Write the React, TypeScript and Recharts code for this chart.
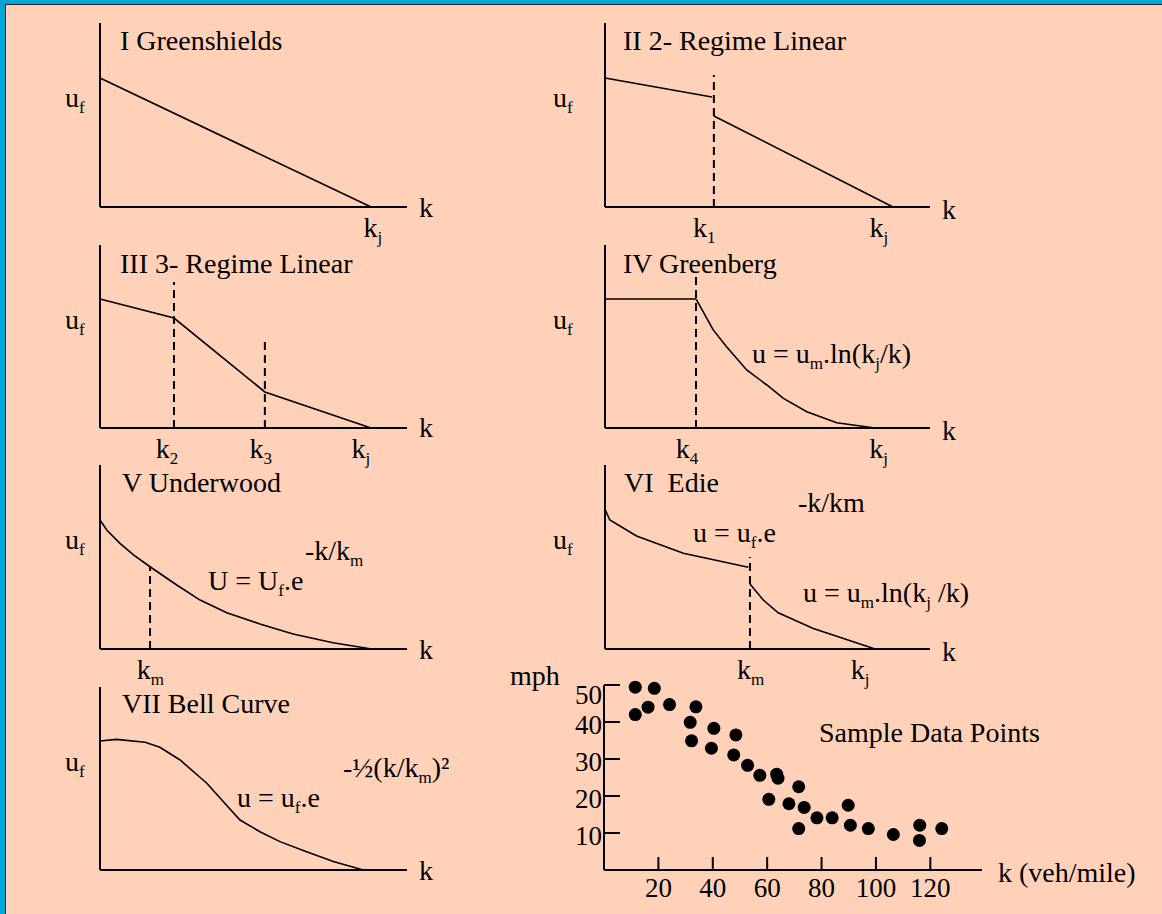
import React from 'react';
import { LineChart, Line, XAxis, YAxis, ReferenceLine, ScatterChart, Scatter } from 'recharts';

const FONT = "'Liberation Serif', 'Times New Roman', serif";
const INK = '#000';
const PEACH = '#FFD1B9';
const BLUE = '#00A6D6';

// I Greenshields (k and u as % of axis length)
const greenshieldsK = [0, 88.3];
const greenshieldsU = [70.1, 0];

// II 2-regime linear
const twoFreeK = [0, 32.9];
const twoFreeU = [70.1, 59.8];
const twoCongK = [33.5, 88.6];
const twoCongU = [49.5, 0];

// III 3-regime linear
const threeK = [0, 24.1, 53.7, 88.3];
const threeU = [70.5, 60.1, 19.7, 0];

// IV Greenberg
const greenbergFlatK = [0, 28];
const greenbergFlatU = [70.5, 70.5];
const greenbergK = [28, 33.3, 37.4, 43.6, 49.8, 54.9, 62.1, 71.3, 83.1];
const greenbergU = [70.5, 53.6, 44.4, 31.7, 23.5, 16.2, 8.9, 2.9, 0];

// V Underwood
const underwoodK = [0, 2.2, 6.5, 10.9, 16.3, 25.0, 32.6, 41.3, 52.1, 62.9, 75.9, 88.5];
const underwoodU = [70.1, 64.7, 57.4, 51.1, 44.7, 34.8, 26.6, 19.7, 13.6, 8.2, 3.4, 0];

// VI Edie
const edieFreeK = [0, 1.5, 9.7, 24.1, 44.1];
const edieFreeU = [75.9, 70.1, 61.4, 52.0, 44.4];
const edieCongK = [44.6, 48.7, 53.3, 64.1, 76.4, 83.1];
const edieCongU = [35.3, 26.6, 19.7, 11.2, 4.0, 0];

// VII Bell curve
const bellK = [0, 5.4, 14.7, 19.5, 26.1, 34.8, 40.2, 45.6, 52.1, 58.6, 67.3, 76.0, 85.8];
const bellU = [70.5, 71.4, 69.8, 67.1, 60.1, 47.4, 37.3, 27.3, 20.9, 15.5, 10.0, 4.6, 0];

// Sample data points (veh/mile, mph)
const sampleK = [11.5, 18.5, 11.5, 16.2, 24.1, 33.8, 31.7, 32.2, 40.4, 39.5, 48.5, 47.7, 52.8, 57.3, 63.5, 64.0, 60.6, 68.0, 71.6, 73.6, 71.6, 78.3, 83.9, 89.8, 90.6, 97.2, 106.4, 116.1, 116.0, 124.2];
const sampleU = [49.4, 49.1, 42.0, 44.0, 44.7, 44.1, 39.9, 34.9, 38.3, 32.9, 36.5, 31.1, 28.3, 25.6, 25.9, 24.8, 19.1, 17.9, 22.5, 16.9, 11.2, 14.1, 14.1, 17.5, 12.1, 11.2, 9.6, 12.1, 8.0, 11.2];
const sampleXTicks = [20, 40, 60, 80, 100, 120];
const sampleYTicks = [10, 20, 30, 40, 50];

const rows = (k: number[], u: number[]) => k.map((v, i) => ({ k: v, u: u[i] }));

const T = ({ x, y, size = 28, children }: any) => (
  <text x={x} y={y} fontSize={size} fontFamily={FONT} fill={INK} style={{ whiteSpace: 'pre' }}>
    {children}
  </text>
);

const KTick = ({ x, y, index, subs }: any) => (
  <text x={x} y={y + 30} textAnchor="middle" fontSize={28} fontFamily={FONT} fill={INK}>
    k<tspan fontSize={17} dy={6}>{subs[index]}</tspan>
  </text>
);

const UfTick = ({ x, y, dx }: any) => (
  <text x={x + dx} y={y + 7} fontSize={28} fontFamily={FONT} fill={INK}>
    u<tspan fontSize={17} dy={6}>f</tspan>
  </text>
);

const PAD_L = 70, PAD_T = 30, PAD_R = 60, PAD_B = 45;

function Panel({ left, top, width, height, series, breaks = [], kTicks = [], kSubs = [], ufDx, endDy, title, children }: any) {
  const boxL = left - PAD_L;
  const boxT = top - PAD_T;
  return (
    <div style={{ position: 'absolute', left: boxL, top: boxT }}>
      <LineChart
        width={width + PAD_L + PAD_R}
        height={height + PAD_T + PAD_B}
        margin={{ top: PAD_T, right: PAD_R, bottom: 5, left: 10 }}
      >
        <XAxis
          type="number"
          dataKey="k"
          domain={[0, 100]}
          ticks={kTicks}
          interval={0}
          height={40}
          tickLine={false}
          tickSize={0}
          tickMargin={0}
          axisLine={{ stroke: INK, strokeWidth: 2 }}
          tick={<KTick subs={kSubs} />}
        />
        <YAxis
          type="number"
          domain={[0, 100]}
          ticks={[58]}
          width={60}
          tickLine={false}
          tickSize={0}
          tickMargin={0}
          axisLine={{ stroke: INK, strokeWidth: 2 }}
          tick={<UfTick dx={ufDx} />}
        />
        {breaks.map((b: any, i: number) => (
          <ReferenceLine
            key={i}
            segment={[{ x: b.k, y: 0 }, { x: b.k, y: b.top }]}
            stroke={INK}
            strokeWidth={2}
            strokeDasharray="8 5"
          />
        ))}
        {series.map((s: any, i: number) => (
          <Line
            key={i}
            data={rows(s.k, s.u)}
            dataKey="u"
            type="linear"
            stroke={INK}
            strokeWidth={1.6}
            dot={false}
            isAnimationActive={false}
          />
        ))}
        <g transform={`translate(${-boxL},${-boxT})`}>
          <T x={title.x} y={title.y}>{title.text}</T>
          <T x={left + width + 12} y={top + height + endDy}>k</T>
          {children}
        </g>
      </LineChart>
    </div>
  );
}

const SampleYTick = ({ x, y, payload }: any) => (
  <g>
    <line x1={x} x2={x + 16} y1={y} y2={y} stroke={INK} strokeWidth={2} />
    <text x={x - 2} y={y + (payload.value === 50 ? 19 : 12)} textAnchor="end" fontSize={27} fontFamily={FONT} fill={INK}>
      {payload.value}
    </text>
  </g>
);

const SampleXTick = ({ x, y, payload }: any) => (
  <g>
    <line x1={x} x2={x} y1={y - 13} y2={y} stroke={INK} strokeWidth={2} />
    <text x={x} y={y + 27} textAnchor="middle" fontSize={27} fontFamily={FONT} fill={INK}>
      {payload.value}
    </text>
  </g>
);

function SamplePanel() {
  const left = 604, top = 685, width = 378, height = 185;
  const padL = 110;
  const boxL = left - padL;
  const boxT = top - PAD_T;
  return (
    <div style={{ position: 'absolute', left: boxL, top: boxT }}>
      <ScatterChart
        width={width + padL + 180}
        height={height + PAD_T + PAD_B}
        margin={{ top: PAD_T, right: 180, bottom: 5, left: padL - 60 }}
      >
        <XAxis
          type="number"
          dataKey="k"
          domain={[0, 139]}
          ticks={sampleXTicks}
          interval={0}
          height={40}
          tickLine={false}
          tickSize={0}
          tickMargin={0}
          axisLine={{ stroke: INK, strokeWidth: 2 }}
          tick={<SampleXTick />}
        />
        <YAxis
          type="number"
          dataKey="u"
          domain={[0, 50]}
          ticks={sampleYTicks}
          interval={0}
          width={60}
          tickLine={false}
          tickSize={0}
          tickMargin={0}
          axisLine={{ stroke: INK, strokeWidth: 2 }}
          tick={<SampleYTick />}
        />
        <Scatter
          data={rows(sampleK, sampleU)}
          fill={INK}
          isAnimationActive={false}
          shape={(p: any) => <circle cx={p.cx} cy={p.cy} r={6.5} fill={INK} />}
        />
        <g transform={`translate(${-boxL},${-boxT})`}>
          <T x={510} y={685}>mph</T>
          <T x={819} y={742}>Sample Data Points</T>
          <T x={998} y={882}>k (veh/mile)</T>
        </g>
      </ScatterChart>
    </div>
  );
}

export default function App() {
  return (
    <div style={{ position: 'absolute', left: 0, top: 0, width: 1162, height: 914, background: BLUE, overflow: 'hidden' }}>
      <div style={{ position: 'absolute', left: 5, top: 4, right: 0, bottom: 0, background: PEACH, borderTop: '1px solid #222', borderLeft: '1px solid #222' }} />

      <Panel
        left={100} top={23} width={307} height={184}
        series={[{ k: greenshieldsK, u: greenshieldsU }]}
        kTicks={[88.9]} kSubs={['j']}
        ufDx={-35} endDy={10}
        title={{ x: 120, y: 50, text: 'I Greenshields' }}
      />

      <Panel
        left={605} top={23} width={325} height={184}
        series={[{ k: twoFreeK, u: twoFreeU }, { k: twoCongK, u: twoCongU }]}
        breaks={[{ k: 33.5, top: 71.7 }]}
        kTicks={[30.5, 84.3]} kSubs={['1', 'j']}
        ufDx={-52} endDy={12}
        title={{ x: 623, y: 50, text: 'II 2- Regime Linear' }}
      />

      <Panel
        left={100} top={245} width={307} height={183}
        series={[{ k: threeK, u: threeU }]}
        breaks={[{ k: 24.1, top: 79.8 }, { k: 53.7, top: 49.7 }]}
        kTicks={[21.8, 52.4, 85]} kSubs={['2', '3', 'j']}
        ufDx={-35} endDy={9}
        title={{ x: 120, y: 273, text: 'III 3- Regime Linear' }}
      />

      <Panel
        left={605} top={245} width={325} height={183}
        series={[{ k: greenbergFlatK, u: greenbergFlatU }, { k: greenbergK, u: greenbergU }]}
        breaks={[{ k: 28, top: 84.7 }]}
        kTicks={[25.2, 84.2]} kSubs={['4', 'j']}
        ufDx={-52} endDy={12}
        title={{ x: 623, y: 273, text: 'IV Greenberg' }}
      >
        <T x={752} y={363}>
          u = u<tspan fontSize={17} dy={6}>m</tspan><tspan dy={-6}>.ln(k</tspan><tspan fontSize={17} dy={6}>j</tspan><tspan dy={-6}>/k)</tspan>
        </T>
      </Panel>

      <Panel
        left={100} top={465} width={307} height={184}
        series={[{ k: underwoodK, u: underwoodU }]}
        breaks={[{ k: 16.3, top: 44.7 }]}
        kTicks={[16.4]} kSubs={['m']}
        ufDx={-35} endDy={10}
        title={{ x: 122, y: 492, text: 'V Underwood' }}
      >
        <T x={305} y={560}>
          -k/k<tspan fontSize={17} dy={6}>m</tspan>
        </T>
        <T x={208} y={590}>
          U = U<tspan fontSize={17} dy={6}>f</tspan><tspan dy={-6}>.e</tspan>
        </T>
      </Panel>

      <Panel
        left={605} top={465} width={325} height={184}
        series={[{ k: edieFreeK, u: edieFreeU }, { k: edieCongK, u: edieCongU }]}
        breaks={[{ k: 44.6, top: 50 }]}
        kTicks={[44.8, 78.5]} kSubs={['m', 'j']}
        ufDx={-52} endDy={12}
        title={{ x: 624, y: 492, text: 'VI  Edie' }}
      >
        <T x={798} y={512}>-k/km</T>
        <T x={693} y={542}>
          u = u<tspan fontSize={17} dy={6}>f</tspan><tspan dy={-6}>.e</tspan>
        </T>
        <T x={803} y={602}>
          u = u<tspan fontSize={17} dy={6}>m</tspan><tspan dy={-6}>.ln(k</tspan><tspan fontSize={17} dy={6}>j</tspan><tspan dy={-6}> /k)</tspan>
        </T>
      </Panel>

      <Panel
        left={100} top={687} width={307} height={183}
        series={[{ k: bellK, u: bellU }]}
        ufDx={-35} endDy={10}
        title={{ x: 122, y: 713, text: 'VII Bell Curve' }}
      >
        <T x={343} y={777}>
          -½(k/k<tspan fontSize={17} dy={6}>m</tspan><tspan dy={-6}>)²</tspan>
        </T>
        <T x={237} y={807}>
          u = u<tspan fontSize={17} dy={6}>f</tspan><tspan dy={-6}>.e</tspan>
        </T>
      </Panel>

      <SamplePanel />
    </div>
  );
}
